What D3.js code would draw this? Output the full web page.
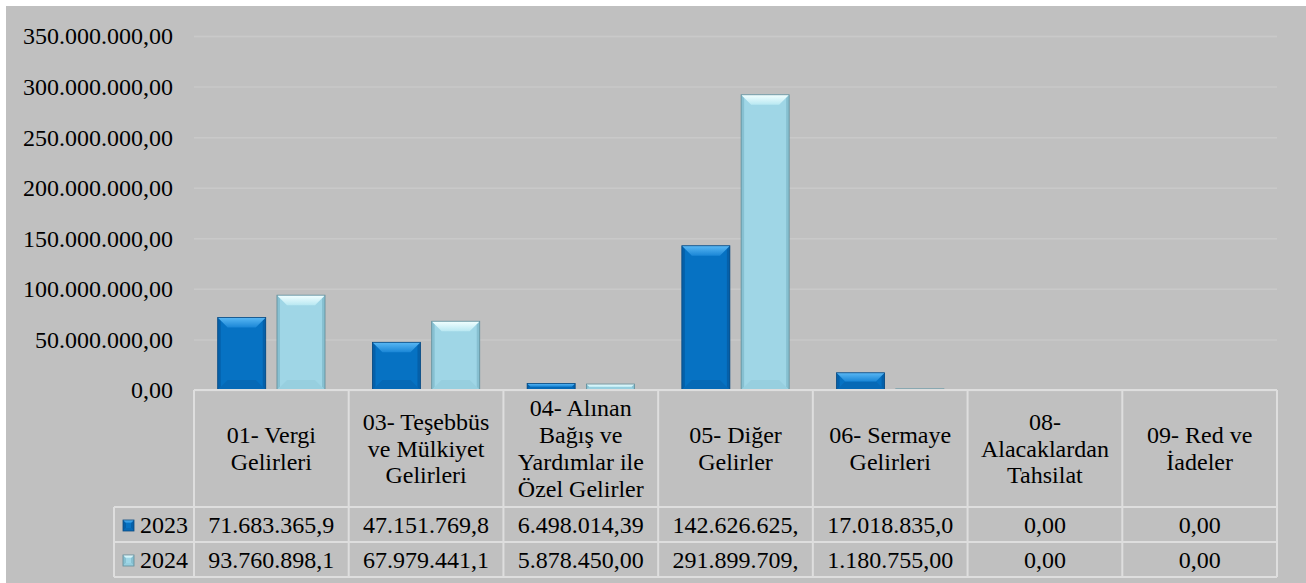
<!DOCTYPE html>
<html>
<head>
<meta charset="utf-8">
<script src="https://cdn.jsdelivr.net/npm/d3@7"></script>
<style>
  body { margin: 0; background: #fff; }
  svg { display: block; }
</style>
</head>
<body>
<div id="chart"></div>
<script>
// revenue categories (table header)
var categories = [
    "01- Vergi Gelirleri",
    "03- Teşebbüs ve Mülkiyet Gelirleri",
    "04- Alınan Bağış ve Yardımlar ile Özel Gelirler",
    "05- Diğer Gelirler",
    "06- Sermaye Gelirleri",
    "08- Alacaklardan Tahsilat",
    "09- Red ve İadeler"
];
var seriesNames = ["2023", "2024"];
var values2023 = [71683365.9, 47151769.8, 6498014.39, 142626625, 17018835.0, 0, 0];
var values2024 = [93760898.1, 67979441.1, 5878450.00, 291899709, 1180755.00, 0, 0];
var yTicks = [0, 50000000, 100000000, 150000000, 200000000, 250000000, 300000000, 350000000];

var W = 1306, H = 583,
    plotLeft = 194, plotRight = 1277,
    plotTop = 36, zeroY = 390,
    headerBottom = 507, row1Bottom = 542, row2Bottom = 577,
    legendLeft = 114,
    serif = "'Liberation Serif', Tinos, 'Times New Roman', 'Nimbus Roman', 'DejaVu Serif', 'Noto Serif', serif";

// pick a size so a 14 char label is about 150px wide, whatever serif face is found
var probeCanvas = document.createElement("canvas").getContext("2d");
probeCanvas.font = "100px " + serif;
var fontSize = Math.min(24, 100 * 150 / probeCanvas.measureText("350.000.000,00").width);

var tr = d3.formatLocale({ decimal: ",", thousands: ".", grouping: [3], currency: ["", ""] });
var fmt = tr.format(",.2f");

var palettes = {
    "2023": { id: "a", main: "#0672c3", top0: "#5ab8f4", top1: "#1a86d6", side: "#0560a9", bottom: "#0669b6", edge: "#0b4a80" },
    "2024": { id: "b", main: "#9fd6e6", top0: "#f2ffff", top1: "#b9e8f2", side: "#87c0d1", bottom: "#97cfdf", edge: "#5f8c99" }
};

var svg = d3.select("#chart").append("svg")
    .attr("width", W)
    .attr("height", H)
    .style("font-family", serif);

var defs = svg.append("defs");
seriesNames.forEach(function(s) {
    var p = palettes[s];
    var gr = defs.append("linearGradient").attr("id", "top-" + p.id)
        .attr("x1", 0).attr("y1", 0).attr("x2", 0).attr("y2", 1);
    gr.append("stop").attr("offset", "0%").attr("stop-color", p.top0);
    gr.append("stop").attr("offset", "100%").attr("stop-color", p.top1);
});

// background
svg.append("rect")
    .attr("x", 6).attr("y", 6)
    .attr("width", W - 6).attr("height", H - 6)
    .attr("fill", "#c0c0c0");

var y = d3.scaleLinear()
    .domain([0, 350000000])
    .range([zeroY, plotTop]);

var x0 = d3.scaleBand()
    .domain(categories)
    .range([plotLeft, plotRight]);

var x1 = d3.scaleBand()
    .domain(seriesNames)
    .range([0, x0.bandwidth()])
    .paddingInner(0.19)
    .paddingOuter(0.4);

// gridlines + labels
var yAxis = d3.axisLeft(y)
    .tickValues(yTicks)
    .tickSize(plotRight - plotLeft)
    .tickPadding(plotLeft - 173)
    .tickFormat(fmt);

var ax = svg.append("g")
    .attr("transform", "translate(" + plotRight + ",0)")
    .call(yAxis);
ax.attr("font-family", null).attr("font-size", null);
ax.select(".domain").remove();
ax.selectAll(".tick line").attr("stroke", "#c9c9c9").attr("stroke-width", 1.5);
ax.selectAll(".tick text")
    .style("font-family", serif)
    .style("font-size", fontSize + "px")
    .attr("fill", "#000")
    .attr("dy", "0.33em");

// bars with a bevel look
function drawBar(g, bx, by, w, h, p, bev) {
    if (h <= 0) return;
    var b = Math.min(bev, h / 2), s = Math.min(3, h / 2);
    g.append("rect")
        .attr("x", bx).attr("y", by).attr("width", w).attr("height", h)
        .attr("fill", p.main);
    // sides
    g.append("path")
        .attr("d", "M" + bx + "," + by + "L" + (bx + s) + "," + (by + s) + "V" + (by + h - s) + "L" + bx + "," + (by + h) + "Z")
        .attr("fill", p.side);
    g.append("path")
        .attr("d", "M" + (bx + w) + "," + by + "L" + (bx + w - s) + "," + (by + s) + "V" + (by + h - s) + "L" + (bx + w) + "," + (by + h) + "Z")
        .attr("fill", p.side);
    // bottom bevel
    g.append("path")
        .attr("d", "M" + bx + "," + (by + h) + "H" + (bx + w) + "L" + (bx + w - b) + "," + (by + h - b) + "H" + (bx + b) + "Z")
        .attr("fill", p.bottom);
    // top bevel
    g.append("path")
        .attr("d", "M" + bx + "," + by + "H" + (bx + w) + "L" + (bx + w - b) + "," + (by + b) + "H" + (bx + b) + "Z")
        .attr("fill", "url(#top-" + p.id + ")");
    g.append("rect")
        .attr("x", bx).attr("y", by).attr("width", w).attr("height", h)
        .attr("fill", "none")
        .attr("stroke", p.edge)
        .attr("stroke-width", 0.8);
}

var seriesValues = { "2023": values2023, "2024": values2024 };
var bars = svg.append("g");
categories.forEach(function(c, i) {
    seriesNames.forEach(function(s) {
        var v = seriesValues[s][i];
        var top = y(v);
        drawBar(bars, x0(c) + x1(s), top, x1.bandwidth(), zeroY - top, palettes[s], 10);
    });
});

// data table
var grid = svg.append("g")
    .attr("stroke", "#dedede")
    .attr("stroke-width", 2)
    .attr("fill", "none");

grid.append("line").attr("x1", plotLeft).attr("x2", plotRight).attr("y1", zeroY).attr("y2", zeroY);
[headerBottom, row1Bottom, row2Bottom].forEach(function(ry) {
    grid.append("line").attr("x1", legendLeft).attr("x2", plotRight).attr("y1", ry).attr("y2", ry);
});
grid.append("line").attr("x1", legendLeft).attr("x2", legendLeft).attr("y1", headerBottom).attr("y2", row2Bottom);
categories.forEach(function(c) {
    grid.append("line").attr("x1", x0(c)).attr("x2", x0(c)).attr("y1", zeroY).attr("y2", row2Bottom);
});
grid.append("line").attr("x1", plotRight).attr("x2", plotRight).attr("y1", zeroY).attr("y2", row2Bottom);

var maxW = (x0.bandwidth() - 20) * fontSize / 24;

// wrapped header labels
var tbl = svg.append("g")
    .style("font-family", serif)
    .style("font-size", fontSize + "px")
    .attr("fill", "#000");
var lineH = 26.7;
categories.forEach(function(c) {
    var cx = x0(c) + x0.bandwidth() / 2;
    var probe = tbl.append("text").attr("text-anchor", "middle");
    var words = c.split(" "), lines = [], cur = "";
    words.forEach(function(w) {
        var test = cur ? cur + " " + w : w;
        probe.text(test);
        if (cur && probe.node().getComputedTextLength() > maxW) {
            lines.push(cur);
            cur = w;
        } else {
            cur = test;
        }
    });
    lines.push(cur);
    probe.remove();
    var mid = (zeroY + headerBottom) / 2;
    var first = mid - (lines.length - 1) * lineH / 2;
    lines.forEach(function(l, k) {
        tbl.append("text")
            .attr("text-anchor", "middle")
            .attr("x", cx)
            .attr("y", first + k * lineH + 8)
            .text(l);
    });
});

// value rows, cut to the cell width like the spreadsheet does
var rowMids = [(headerBottom + row1Bottom) / 2, (row1Bottom + row2Bottom) / 2];
seriesNames.forEach(function(s, r) {
    categories.forEach(function(c, i) {
        var t = tbl.append("text")
            .attr("text-anchor", "middle")
            .attr("x", x0(c) + x0.bandwidth() / 2)
            .attr("y", rowMids[r] + 8);
        var str = fmt(seriesValues[s][i]);
        t.text(str);
        while (t.node().getComputedTextLength() > maxW && str.length > 1) {
            str = str.slice(0, -1);
            t.text(str);
        }
    });
    // legend key
    var k = 11;
    drawBar(tbl, 123, rowMids[r] - k / 2 + 1, k, k, palettes[s], 3);
    tbl.append("text")
        .attr("x", 140)
        .attr("y", rowMids[r] + 8)
        .text(s);
});
</script>
</body>
</html>
